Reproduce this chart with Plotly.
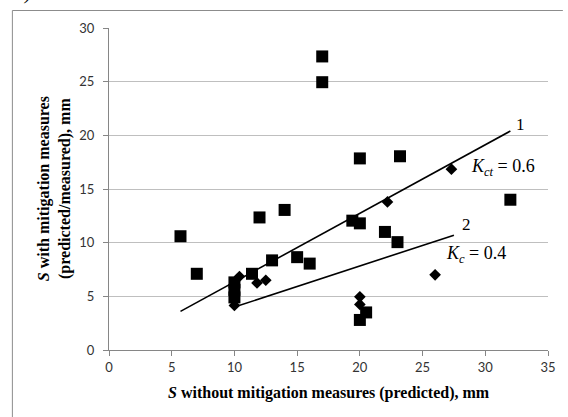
import plotly.graph_objects as go

# Data
squares_x = [5.7, 7.0, 10.0, 10.0, 10.0, 11.4, 12.0, 13.0, 14.0, 15.0, 16.0, 17.0, 17.0,
             19.4, 20.0, 20.0, 20.5, 20.0, 22.0, 23.0, 23.2, 32.0]
squares_y = [10.6, 7.1, 6.3, 5.6, 4.9, 7.1, 12.35, 8.35, 13.05, 8.65, 8.05, 27.35, 24.95,
             12.05, 11.8, 17.85, 3.5, 2.8, 11.0, 10.05, 18.05, 14.0]
diamonds_x = [10.0, 10.4, 11.8, 12.5, 20.0, 20.0, 22.2, 26.0, 27.3]
diamonds_y = [4.15, 6.85, 6.25, 6.5, 4.95, 4.25, 13.8, 7.0, 16.85]

line1_x = [5.7, 32.0]
line1_y = [3.6, 20.4]
line2_x = [10.0, 27.5]
line2_y = [4.0, 10.7]

x_ticks = [0, 5, 10, 15, 20, 25, 30, 35]
y_ticks = [0, 5, 10, 15, 20, 25, 30]

serif = "Liberation Serif"
sans = "Lato"

fig = go.Figure()
fig.add_trace(go.Scatter(x=line1_x, y=line1_y, mode="lines",
                         line=dict(color="black", width=1.6), showlegend=False))
fig.add_trace(go.Scatter(x=line2_x, y=line2_y, mode="lines",
                         line=dict(color="black", width=1.6), showlegend=False))
fig.add_trace(go.Scatter(x=squares_x, y=squares_y, mode="markers",
                         marker=dict(symbol="square", size=12, color="black"),
                         showlegend=False))
fig.add_trace(go.Scatter(x=diamonds_x, y=diamonds_y, mode="markers",
                         marker=dict(symbol="diamond", size=9, color="black"),
                         showlegend=False))

ann = []
ann.append(dict(x=32.8, y=21.0, xref="x", yref="y", text="1", showarrow=False,
                font=dict(family=serif, size=17, color="black")))
ann.append(dict(x=28.5, y=11.7, xref="x", yref="y", text="2", showarrow=False,
                font=dict(family=serif, size=17, color="black")))
ann.append(dict(x=31.4, y=17.0, xref="x", yref="y",
                text="<i>K</i><sub><i>ct</i></sub> = 0.6", showarrow=False,
                font=dict(family=serif, size=18, color="black")))
ann.append(dict(x=29.25, y=8.9, xref="x", yref="y",
                text="<i>K</i><sub><i>c</i></sub> = 0.4", showarrow=False,
                font=dict(family=serif, size=18, color="black")))
ann.append(dict(x=0.5, y=-0.134, xref="paper", yref="paper", yanchor="middle",
                text="<b><i>S</i> without mitigation measures (predicted), mm</b>",
                showarrow=False, font=dict(family=serif, size=16, color="black")))
ann.append(dict(x=-0.125, y=0.5, xref="paper", yref="paper", textangle=-90,
                xanchor="center", yanchor="middle",
                text="<b><i>S</i> with mitigation measures<br>(predicted/measured), mm</b>",
                showarrow=False, font=dict(family=serif, size=16, color="black")))
ann.append(dict(x=-0.218, y=1.068, xref="paper", yref="paper", xanchor="left",
                yanchor="bottom", text="<i>б)</i>", showarrow=False,
                font=dict(family=serif, size=20, color="black")))

# outer frame: left and top edges visible in the picture
frame_left = (11.5 - 109) / 443
frame_top = (350 - 10.5) / 322
fig.add_shape(type="line", xref="paper", yref="paper",
              x0=frame_left, x1=frame_left, y0=-0.3, y1=frame_top,
              line=dict(color="#8c8c8c", width=1))
fig.add_shape(type="line", xref="paper", yref="paper",
              x0=frame_left, x1=(567 - 109) / 443, y0=frame_top, y1=frame_top,
              line=dict(color="#8c8c8c", width=1))

fig.update_layout(
    width=568, height=417,
    margin=dict(l=109, r=16, t=28, b=67),
    paper_bgcolor="white", plot_bgcolor="white",
    annotations=ann,
    xaxis=dict(range=[0, 35], tickvals=x_ticks, showgrid=False, zeroline=False,
               showline=True, linecolor="#868686", linewidth=1,
               ticks="outside", ticklen=5, tickcolor="#868686",
               tickfont=dict(family=sans, size=13, color="#333333")),
    yaxis=dict(range=[0, 30], tickvals=y_ticks, showgrid=True, gridcolor="#bfbfbf",
               gridwidth=1, zeroline=False,
               showline=True, linecolor="#868686", linewidth=1,
               ticks="outside", ticklen=5, tickcolor="#868686",
               ticklabelstandoff=6,
               tickfont=dict(family=sans, size=13, color="#333333")),
)

fig.write_html("out.html", config={"displayModeBar": False},
               post_script="document.body.style.margin='0';document.body.style.overflow='hidden';")
